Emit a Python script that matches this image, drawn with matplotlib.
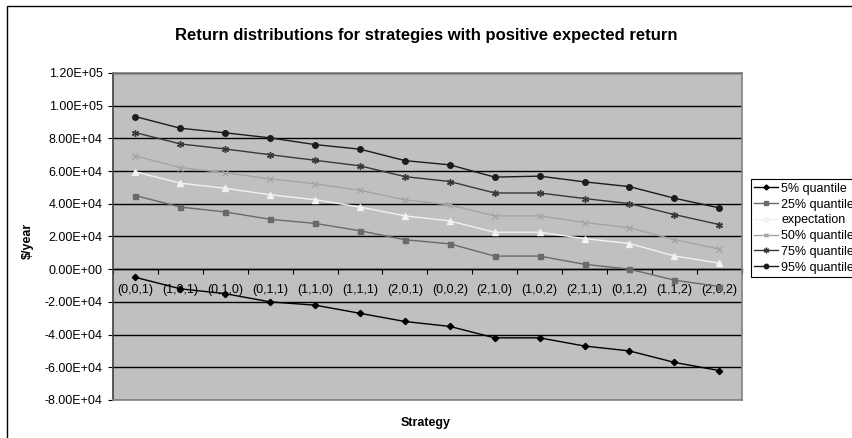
"""
Return distributions for the strategies with positive expected return
"""

import numpy as np
import matplotlib
matplotlib.use('Agg')
import matplotlib.pyplot as plt
from matplotlib.patches import Rectangle
from matplotlib.ticker import FuncFormatter, MultipleLocator

plt.rcParams['font.family'] = ['Liberation Sans', 'DejaVu Sans']

# strategies on the category axis
strategies = ['(0,0,1)', '(1,0,1)', '(0,1,0)', '(0,1,1)', '(1,1,0)', '(1,1,1)', '(2,0,1)',
              '(0,0,2)', '(2,1,0)', '(1,0,2)', '(2,1,1)', '(0,1,2)', '(1,1,2)', '(2,0,2)']

# return per strategy in $/year
q05 = [-5000, -12000, -15000, -20000, -22000, -27000, -32000,
       -35000, -42000, -42000, -47000, -50000, -57000, -62000]
q25 = [45000, 38000, 35000, 30500, 28000, 23500, 18000,
       15500, 8000, 8000, 3000, 0, -6700, -10600]
expectation = [59500, 52600, 49500, 45500, 42500, 38000, 32600,
               29500, 22600, 22600, 18700, 15700, 8100, 3700]
q50 = [69300, 62100, 59000, 55200, 52200, 48300, 42400,
       39300, 32600, 32600, 28500, 25400, 18000, 12400]
q75 = [83500, 76600, 73500, 70000, 66600, 63200, 56600,
       53600, 46600, 46600, 43200, 40100, 33400, 27300]
q95 = [93300, 86200, 83400, 80300, 76200, 73400, 66400,
       63800, 56300, 56900, 53400, 50500, 43400, 37500]

series = [
    (q05, '5% quantile', '#000000', 'D', 3.2),
    (q25, '25% quantile', '#6a6a6a', 's', 3.6),
    (expectation, 'expectation', '#f2f2f2', '^', 4.2),
    (q50, '50% quantile', '#a4a4a4', 'x', 4.2),
    (q75, '75% quantile', '#383838', (6, 2, 0), 5.0),
    (q95, '95% quantile', '#1c1c1c', 'o', 4.0),
]

fig = plt.figure(figsize=(8.53, 4.38), dpi=100)
ax = fig.add_axes([0.1325, 0.0868, 0.737, 0.7466])
ax.set_facecolor('#c0c0c0')

x = np.arange(len(strategies))
for values, label, color, marker, ms in series:
    ax.plot(x, values, color=color, lw=1.0, marker=marker, ms=ms,
            mec=color, mfc=color, mew=1.0, label=label)

# value axis
ax.set_xlim(-0.5, len(strategies) - 0.5)
ax.set_ylim(-80000, 120000)
ax.yaxis.set_major_locator(MultipleLocator(20000))
ax.yaxis.set_major_formatter(FuncFormatter(lambda v, pos: f'{v:.2E}'))
ax.yaxis.grid(True, color='black', lw=1.0)
ax.set_xticks([])
ax.tick_params(axis='y', direction='out', length=3.6, width=0.8, pad=4,
               labelsize=9, color='black')
for side in ['top', 'right', 'bottom']:
    ax.spines[side].set_color('#808080')
    ax.spines[side].set_linewidth(1.2)
ax.spines['left'].set_color('#404040')
ax.spines['left'].set_linewidth(1.2)

# category axis crosses at zero
sec = ax.secondary_xaxis(0, transform=ax.transData)
sec.set_xticks(np.arange(len(strategies) + 1) - 0.5)
sec.set_xticklabels([])
sec.set_xticks(x, labels=strategies, minor=True)
sec.tick_params(which='major', direction='out', length=3.6, width=0.8, color='black')
sec.tick_params(which='minor', length=0, pad=11, labelsize=9)
sec.spines['bottom'].set_color('black')
sec.spines['bottom'].set_linewidth(1.0)

# titles
fig.text(0.5, 0.920, 'Return distributions for strategies with positive expected return',
         ha='center', va='center', fontsize=12, fontweight='bold')
fig.text(0.4995, 0.034, 'Strategy', ha='center', va='center', fontsize=9, fontweight='bold')
fig.text(0.033, 0.45, '\\$/year', ha='center', va='center', rotation=90,
         fontsize=9, fontweight='bold')

leg = fig.legend(loc='upper left', bbox_to_anchor=(0.880, 0.5913), borderaxespad=0,
                 fontsize=9, frameon=True, fancybox=False, edgecolor='black',
                 framealpha=1, labelspacing=0.3, handlelength=1.9,
                 handletextpad=0.25, borderpad=0.3, markerscale=0.8)
leg.get_frame().set_linewidth(0.8)

# outer chart frame
fig.patches.append(Rectangle((7 / 853, -0.1), 2, 1.1 - 6 / 438, transform=fig.transFigure,
                             fill=False, ec='black', lw=1.0))

fig.savefig('out.png', dpi=100)
